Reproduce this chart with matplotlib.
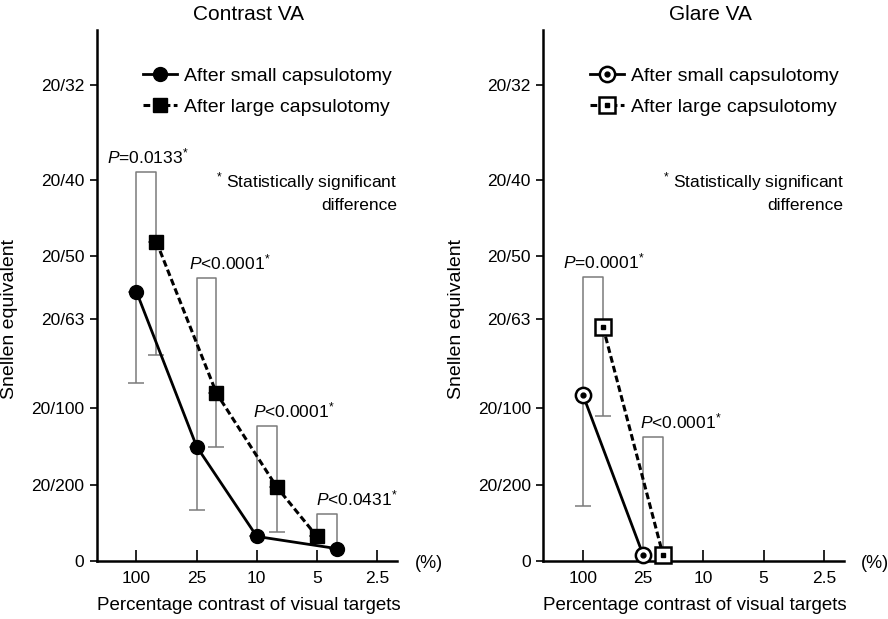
import matplotlib
matplotlib.use('Agg')
import matplotlib.pyplot as plt
from matplotlib.legend_handler import HandlerTuple
import numpy as np

plt.rcParams['font.family'] = ['Liberation Sans', 'DejaVu Sans']
plt.rcParams['mathtext.fontset'] = 'custom'
plt.rcParams['mathtext.rm'] = 'Liberation Sans'
plt.rcParams['mathtext.it'] = 'Liberation Sans:italic'

# x categories (percentage contrast) and y ticks (decimal VA -> Snellen)
contrast_labels = ['100', '25', '10', '5', '2.5']
snellen_values = [0, 0.1, 0.2, 20 / 63, 0.4, 0.5, 0.625]
snellen_labels = ['0', '20/200', '20/100', '20/63', '20/50', '20/40', '20/32']

# Contrast VA (decimal visual acuity)
contrast_small_x = [0, 1, 2, 3.33]
contrast_small_y = [0.353, 0.150, 0.032, 0.016]
contrast_small_err = [0.119, 0.083, 0.0, 0.0]
contrast_large_x = [0.33, 1.33, 2.33, 3.0]
contrast_large_y = [0.419, 0.220, 0.097, 0.032]
contrast_large_err = [0.149, 0.070, 0.059, 0.0]
contrast_p_text = [r'$P$=0.0133$^{*}$', r'$P$<0.0001$^{*}$', r'$P$<0.0001$^{*}$', r'$P$<0.0431$^{*}$']
contrast_p_top = [0.510, 0.371, 0.177, 0.062]
contrast_p_left = [0, 1, 2, 3.0]
contrast_p_right = [0.33, 1.33, 2.33, 3.33]

# Glare VA
glare_small_x = [0, 1]
glare_small_y = [0.217, 0.007]
glare_small_err = [0.145, 0.0]
glare_large_x = [0.33, 1.33]
glare_large_y = [0.307, 0.007]
glare_large_err = [0.117, 0.0]
glare_p_text = [r'$P$=0.0001$^{*}$', r'$P$<0.0001$^{*}$']
glare_p_top = [0.373, 0.163]
glare_p_left = [0, 1]
glare_p_right = [0.33, 1.33]

GRAY = '#7a7a7a'


def setup_axes(ax, title, title_x):
    ax.set_xlim(-0.66, 4.33)
    ax.set_ylim(0, 0.697)
    for s in ['top', 'right']:
        ax.spines[s].set_visible(False)
    ax.spines['left'].set_linewidth(1.8)
    ax.spines['bottom'].set_linewidth(1.8)
    ax.set_xticks(range(len(contrast_labels)))
    ax.set_xticklabels(contrast_labels, fontsize=12.5)
    ax.set_yticks(snellen_values)
    ax.set_yticklabels(snellen_labels, fontsize=12.5)
    ax.tick_params(axis='x', direction='in', length=8, width=1.2, pad=7)
    ax.tick_params(axis='y', direction='out', length=5, width=1.2, pad=4)
    ax.set_ylabel('Snellen equivalent', fontsize=14)
    ax.yaxis.set_label_coords(-0.262, 0.455)
    ax.set_xlabel('Percentage contrast of visual targets', fontsize=13.5)
    ax.xaxis.set_label_coords(0.505, -0.068)
    ax.text(title_x, 1.028, title, transform=ax.transAxes, ha='center', va='center', fontsize=15)
    ax.text(1.105, -0.005, '(%)', transform=ax.transAxes, ha='center', va='center', fontsize=13)
    ax.text(1.0, 0.735, '$^{*}$ Statistically significant\ndifference', transform=ax.transAxes,
            ha='right', va='top', multialignment='right', fontsize=12.5, linespacing=1.4)


def draw_brackets(ax, lefts, rights, tops, texts, bottoms_l, bottoms_r, text_x, text_ha):
    for xl, xr, top, txt, bl, br, tx, ha in zip(lefts, rights, tops, texts, bottoms_l, bottoms_r, text_x, text_ha):
        ax.plot([xl, xl, xr, xr], [bl, top, top, br], color=GRAY, lw=1.1, zorder=1)
        ax.text(tx, top + 0.007, txt, ha=ha, va='bottom', fontsize=12.5)


fig = plt.figure(figsize=(8.88, 6.19), dpi=100)
ax1 = fig.add_axes([0.109, 0.094, 0.338, 0.858])
ax2 = fig.add_axes([0.612, 0.094, 0.338, 0.858])

legend_kw = dict(loc='upper left', bbox_to_anchor=(0.155, 0.929), frameon=False, fontsize=14,
                 handlelength=1.75, handletextpad=0.35, labelspacing=0.7, borderpad=0, borderaxespad=0)

# ---- Contrast VA
setup_axes(ax1, 'Contrast VA', 0.505)
ax1.errorbar(contrast_small_x, contrast_small_y, yerr=[contrast_small_err, np.zeros(4)], fmt='none',
             ecolor=GRAY, elinewidth=1.1, capsize=5.5, capthick=1.1, zorder=1)
ax1.errorbar(contrast_large_x, contrast_large_y, yerr=[contrast_large_err, np.zeros(4)], fmt='none',
             ecolor=GRAY, elinewidth=1.1, capsize=5.5, capthick=1.1, zorder=1)
draw_brackets(ax1, contrast_p_left, contrast_p_right, contrast_p_top, contrast_p_text,
              [contrast_small_y[0], contrast_small_y[1], contrast_small_y[2], contrast_large_y[3]],
              [contrast_large_y[0], contrast_large_y[1], contrast_large_y[2], contrast_small_y[3]],
              [0.18, 0.87, 1.93, 2.98], ['center', 'left', 'left', 'left'])
small1, = ax1.plot(contrast_small_x, contrast_small_y, '-o', color='black', lw=2, ms=10, zorder=3)
large1, = ax1.plot(contrast_large_x, contrast_large_y, 'ks', ls=(0, (2.2, 1.1)), lw=2.2, ms=10, zorder=3)
ax1.legend([small1, large1], ['After small capsulotomy', 'After large capsulotomy'], **legend_kw)

# ---- Glare VA
setup_axes(ax2, 'Glare VA', 0.557)
ax2.errorbar(glare_small_x, glare_small_y, yerr=[glare_small_err, np.zeros(2)], fmt='none',
             ecolor=GRAY, elinewidth=1.1, capsize=5.5, capthick=1.1, zorder=1)
ax2.errorbar(glare_large_x, glare_large_y, yerr=[glare_large_err, np.zeros(2)], fmt='none',
             ecolor=GRAY, elinewidth=1.1, capsize=5.5, capthick=1.1, zorder=1)
draw_brackets(ax2, glare_p_left, glare_p_right, glare_p_top, glare_p_text,
              glare_small_y, glare_large_y, [-0.33, 0.95], ['left', 'left'])
small2, = ax2.plot(glare_small_x, glare_small_y, '-o', color='black', mfc='white', mew=1.8,
                   lw=2, ms=11, zorder=3, clip_on=False)
dot2, = ax2.plot(glare_small_x, glare_small_y, 'o', color='black', ms=3.5, zorder=4, clip_on=False)
large2, = ax2.plot(glare_large_x, glare_large_y, 's', color='black', mfc='white', mew=1.8,
                   ls=(0, (2.2, 1.1)), lw=2.2, ms=11, zorder=3, clip_on=False)
sq2, = ax2.plot(glare_large_x, glare_large_y, 's', color='black', ms=3.5, zorder=4, clip_on=False)
ax2.legend([(small2, dot2), (large2, sq2)], ['After small capsulotomy', 'After large capsulotomy'],
           handler_map={tuple: HandlerTuple(ndivide=1)}, **legend_kw)

fig.savefig('out.png', dpi=100)
